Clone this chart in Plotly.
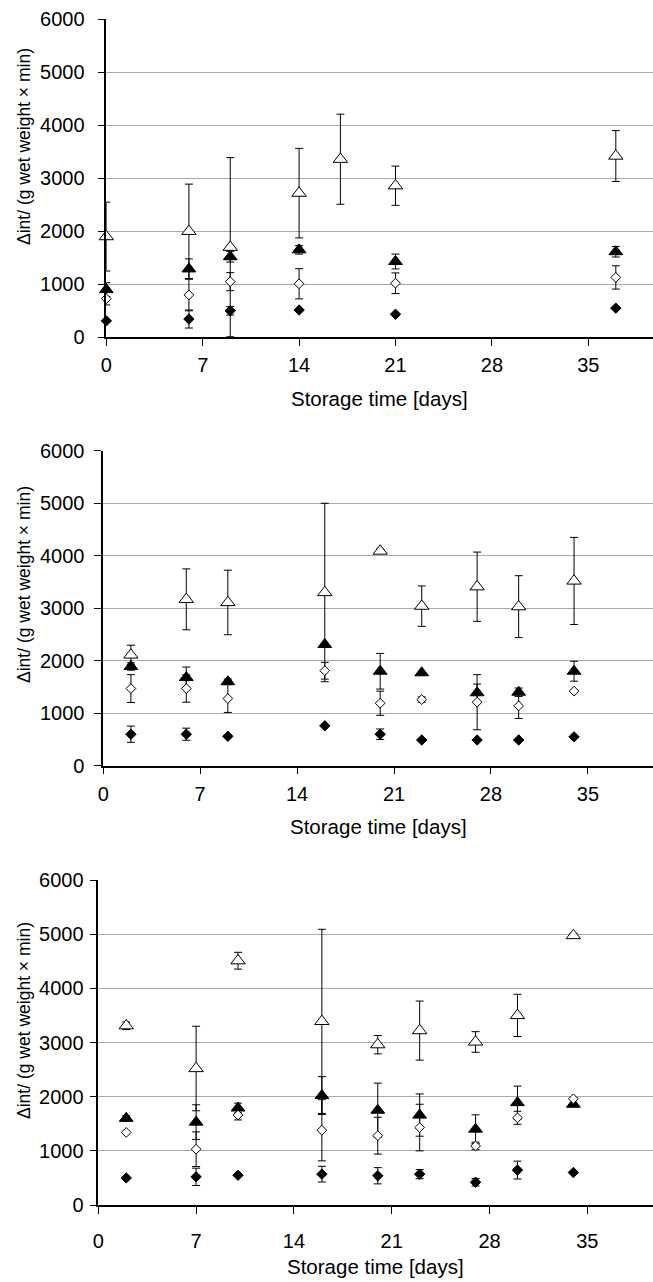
import plotly.graph_objects as go

# ---------------- Panel A (top) ----------------
days_a_otri = [0, 6, 9, 14, 17, 21, 37]
otri_a = [1900, 2000, 1700, 2720, 3360, 2860, 3420]
otri_a_err = [650, 890, 1690, 845, 850, 370, 480]

days_a = [0, 6, 9, 14, 21, 37]
ftri_a = [900, 1290, 1520, 1650, 1430, 1615]
ftri_a_err = [130, 190, 100, 80, 140, 100]
odia_a = [730, 800, 1050, 1010, 1020, 1130]
odia_a_err = [120, 300, 170, 285, 195, 220]
fdia_a = [310, 345, 500, 515, 435, 550]
fdia_a_err = [0, 170, 80, 0, 0, 0]

# ---------------- Panel B (middle) ----------------
days_b = [2, 6, 9, 16, 20, 23, 27, 30, 34]
otri_b = [2110, 3170, 3110, 3300, 4090, 3040, 3410, 3030, 3520]
otri_b_err = [185, 580, 615, 1700, 40, 385, 660, 590, 830]
ftri_b = [1890, 1680, 1600, 2310, 1800, 1770, 1390, 1400, 1800]
ftri_b_err = [70, 200, 50, 0, 340, 0, 165, 80, 190]
odia_b = [1470, 1470, 1280, 1810, 1190, 1260, 1210, 1140, 1420]
odia_b_err = [265, 260, 265, 160, 230, 50, 525, 240, 0]
fdia_b = [600, 600, 560, 760, 600, 490, 490, 490, 550]
fdia_b_err = [155, 115, 0, 0, 100, 0, 0, 0, 0]

# ---------------- Panel C (bottom) ----------------
days_c = [2, 7, 10, 16, 20, 23, 27, 30, 34]
otri_c = [3310, 2520, 4510, 3390, 2960, 3220, 3010, 3500, 4975]
otri_c_err = [70, 780, 155, 1700, 170, 545, 190, 390, 40]
ftri_c = [1600, 1530, 1790, 2020, 1750, 1660, 1400, 1890, 1860]
ftri_c_err = [50, 320, 90, 350, 500, 390, 265, 305, 0]
odia_c = [1340, 1030, 1660, 1380, 1280, 1430, 1090, 1610, 1960]
odia_c_err = [0, 320, 90, 565, 340, 430, 70, 120, 0]
fdia_c = [500, 520, 550, 570, 540, 570, 420, 645, 600]
fdia_c_err = [0, 160, 0, 145, 150, 85, 70, 165, 0]

x_ticks = [0, 7, 14, 21, 28, 35]
y_ticks = [0, 1000, 2000, 3000, 4000, 5000, 6000]
x_title = "Storage time [days]"
y_title = "Δint/ (g wet weight × min)"

W, H = 653, 1282
FONT = "Liberation Sans, Arial, Helvetica, sans-serif"

fig = go.Figure()


def err(vals):
    return dict(type="data", array=vals, visible=True, color="black",
                thickness=1, width=4)


def add_panel(i, days_otri, otri, otri_e, days, ftri, ftri_e, odia, odia_e, fdia, fdia_e):
    xa = "x" if i == 1 else f"x{i}"
    ya = "y" if i == 1 else f"y{i}"
    common = dict(mode="markers", xaxis=xa, yaxis=ya, showlegend=False, cliponaxis=False)
    fig.add_trace(go.Scatter(x=days_otri, y=otri, error_y=err(otri_e),
                             marker=dict(symbol="triangle-up", size=12.5, color="white",
                                         line=dict(color="black", width=1)), **common))
    fig.add_trace(go.Scatter(x=days, y=ftri, error_y=err(ftri_e),
                             marker=dict(symbol="triangle-up", size=12, color="black",
                                         line=dict(color="black", width=1)), **common))
    fig.add_trace(go.Scatter(x=days, y=odia, error_y=err(odia_e),
                             marker=dict(symbol="diamond", size=7.5, color="white",
                                         line=dict(color="black", width=1)), **common))
    fig.add_trace(go.Scatter(x=days, y=fdia, error_y=err(fdia_e),
                             marker=dict(symbol="diamond", size=8, color="black",
                                         line=dict(color="black", width=1)), **common))


add_panel(1, days_a_otri, otri_a, otri_a_err, days_a, ftri_a, ftri_a_err,
          odia_a, odia_a_err, fdia_a, fdia_a_err)
add_panel(2, days_b, otri_b, otri_b_err, days_b, ftri_b, ftri_b_err,
          odia_b, odia_b_err, fdia_b, fdia_b_err)
add_panel(3, days_c, otri_c, otri_c_err, days_c, ftri_c, ftri_c_err,
          odia_c, odia_c_err, fdia_c, fdia_c_err)

# pixel geometry of each panel: (left, top, bottom, ylabel-standoff, xlabel-standoff)
panels = [
    (106.3, 19.3, 337.3, 9, 2),
    (103.2, 450.8, 765.7, 6, 3),
    (98.3, 880.0, 1205.0, 2, 10),
]

layout = dict(
    width=W, height=H,
    margin=dict(l=0, r=0, t=0, b=0, autoexpand=False),
    paper_bgcolor="white", plot_bgcolor="white",
    font=dict(family=FONT, size=20, color="black"),
    showlegend=False,
)

for i, (left, top, bottom, ysoff, xsoff) in enumerate(panels, start=1):
    sfx = "" if i == 1 else str(i)
    layout["xaxis" + sfx] = dict(
        domain=[left / W, 1.0], range=[0, 39.7],
        tickmode="array", tickvals=x_ticks, ticktext=[str(t) for t in x_ticks],
        showline=True, linecolor="black", linewidth=1.5,
        ticks="outside", ticklen=7, tickwidth=1, tickcolor="black",
        showgrid=False, zeroline=False, anchor="y" + sfx,
        tickfont=dict(size=20, family=FONT), ticklabelstandoff=xsoff,
    )
    layout["yaxis" + sfx] = dict(
        domain=[1 - bottom / H, 1 - top / H], range=[0, 6000],
        tickmode="array", tickvals=y_ticks, ticktext=[str(t) for t in y_ticks],
        showline=True, linecolor="black", linewidth=1.5,
        ticks="outside", ticklen=7, tickwidth=1, tickcolor="black",
        showgrid=True, gridcolor="#a8a8a8", gridwidth=1,
        zeroline=False, anchor="x" + sfx,
        tickfont=dict(size=20, family=FONT), ticklabelstandoff=ysoff,
    )

fig.update_layout(**layout)

# axis titles as annotations (pixel-derived positions)
ytitle_centers = [147, 585, 1021]
xtitle_centers = [398, 826, 1266]
for i, (left, top, bottom, _, _) in enumerate(panels):
    fig.add_annotation(text=y_title, xref="paper", yref="paper",
                       x=24 / W, y=1 - ytitle_centers[i] / H,
                       xanchor="center", yanchor="middle", textangle=-90,
                       showarrow=False, font=dict(size=17.5, family=FONT))
    fig.add_annotation(text=x_title, xref="paper", yref="paper",
                       x=(left + W) / 2 / W, y=1 - xtitle_centers[i] / H,
                       xanchor="center", yanchor="middle",
                       showarrow=False, font=dict(size=20.5, family=FONT))

fig.write_html("out.html",
               post_script="document.body.style.margin='0';"
                           "document.body.style.padding='0';"
                           "document.documentElement.style.overflow='hidden';")
